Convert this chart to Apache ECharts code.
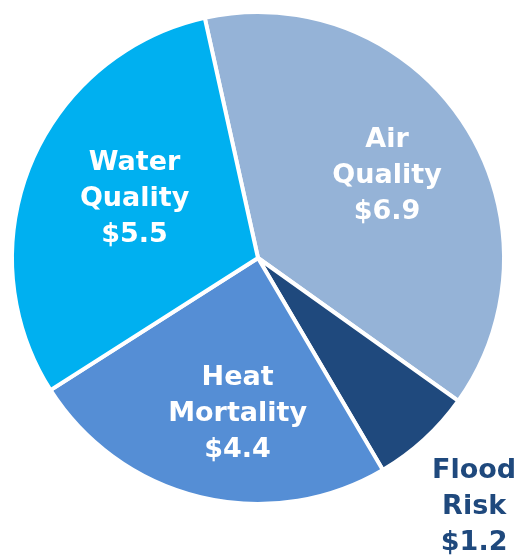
<!DOCTYPE html>
<html>
<head>
<meta charset="utf-8">
<script src="https://cdn.jsdelivr.net/npm/echarts@6/dist/echarts.min.js"></script>
<style>
html,body{margin:0;padding:0;background:#fff;}
#chart{width:516px;height:556px;}
</style>
</head>
<body>
<div id="chart"></div>
<script>
var categories = ["Air\nQuality", "Flood\nRisk", "Heat\nMortality", "Water\nQuality"];
var values = [6.9, 1.2, 4.4, 5.5];
var colors = ["#95B3D7", "#1F497D", "#558ED5", "#00B0F0"];
var labelColors = ["#ffffff", "#1F497D", "#ffffff", "#ffffff"];
var labelOffsets = [[24, -12], [131, 156], [9, 33], [-7, -11]];

var data = categories.map(function (c, i) {
  return {
    name: c,
    value: values[i],
    itemStyle: { color: colors[i] },
    label: { color: labelColors[i], offset: labelOffsets[i] }
  };
});

var chart = echarts.init(document.getElementById('chart'), null, { renderer: 'canvas' });
chart.setOption({
  animation: false,
  series: [{
    type: 'pie',
    center: [258, 258],
    radius: [0, 246],
    startAngle: 102.5,
    clockwise: true,
    avoidLabelOverlap: false,
    itemStyle: { borderColor: '#ffffff', borderWidth: 4 },
    label: {
      show: true,
      position: 'inside',
      fontFamily: 'DejaVu Sans',
      fontWeight: 'bold',
      fontSize: 27,
      lineHeight: 36,
      align: 'center',
      formatter: function (p) { return p.name + '\n$' + p.value.toFixed(1); }
    },
    labelLine: { show: false },
    emphasis: { disabled: true },
    data: data
  }]
});
</script>
</body>
</html>
